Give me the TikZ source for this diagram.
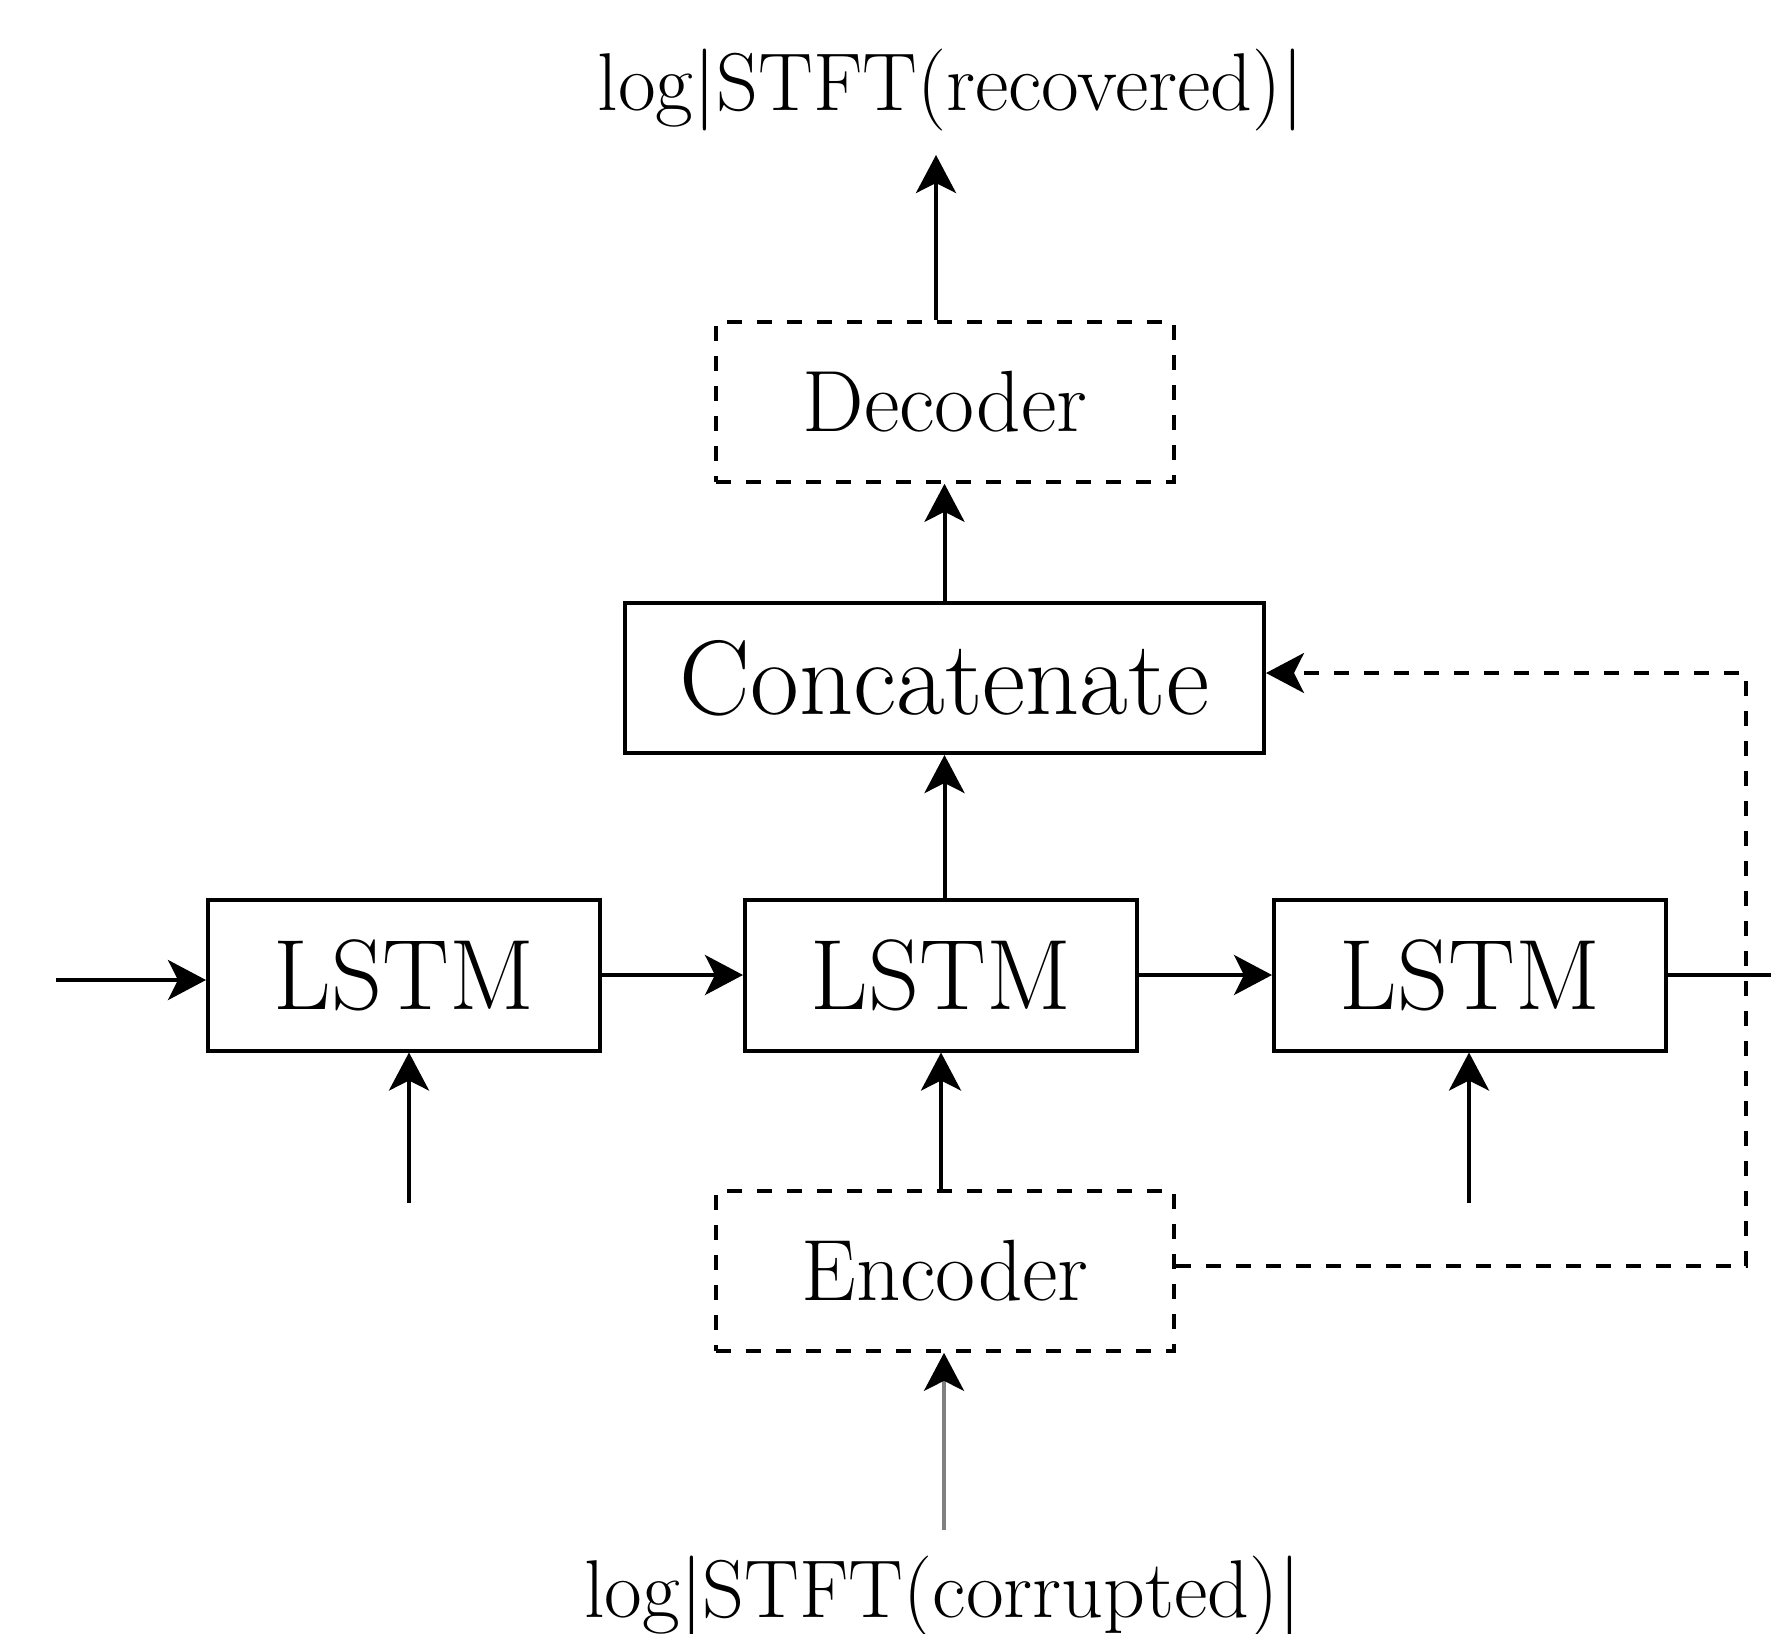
\documentclass[tikz,border=0pt]{standalone}
\usetikzlibrary{arrows.meta}

\definecolor{feedgray}{HTML}{808080}

\tikzset{
  box/.style={draw, line width=2pt, rectangle, inner sep=0pt},
  dashbox/.style={draw, line width=1.8pt, rectangle, inner sep=0pt, dash pattern=on 7.5pt off 7.5pt},
  lstmbox/.style={box, minimum width=196pt, minimum height=75.5pt, font=\fontsize{50}{60}\selectfont},
  codebox/.style={dashbox, minimum width=229pt, minimum height=80pt, font=\fontsize{43.5}{52}\selectfont},
  lbl/.style={inner sep=0pt, anchor=base, font=\fontsize{41}{49}\selectfont},
  arr/.style={line width=2pt, -{Stealth[length=19pt, width=20pt, inset=5pt, black]}},
  plain/.style={line width=2pt},
  dashline/.style={line width=1.8pt, dash pattern=on 7.5pt off 7.5pt}
}

\begin{document}
\begin{tikzpicture}[x=0.5pt, y=-0.5pt]
  \useasboundingbox (0,0) rectangle (1771,1633);

  % recurrent chain
  \node[lstmbox] (l1) at (404,975) {LSTM};
  \node[lstmbox] (l2) at (941,975) {LSTM};
  \node[lstmbox] (l3) at (1470,975) {LSTM};

  % encoder / concatenation / decoder stack
  \node[codebox] (enc) at (945,1271) {Encoder};
  \node[box, minimum width=319.5pt, minimum height=75pt, font=\fontsize{53}{63}\selectfont] (cat) at (944.5,678) {Concatenate};
  \node[codebox] (dec) at (945,402) {Decoder};

  % input and output labels
  \node[lbl] (outlbl) at (951,110) {log|STFT(recovered)|};
  \node[lbl] (inlbl) at (943,1617) {log|STFT(corrupted)|};

  % free ends of the connectors
  \coordinate (hin) at (56,980);
  \coordinate (hout) at (1771,975);
  \coordinate (x1) at (409,1203);
  \coordinate (x3) at (1469,1203);
  \coordinate (outtip) at (936,155);
  \coordinate (instart) at (944,1530);
  \coordinate (fb) at (1746,975);

  % horizontal state flow
  \draw[arr] (hin) -- (hin -| l1.west);
  \draw[arr] (l1.east) -- (l2.west);
  \draw[arr] (l2.east) -- (l3.west);
  \draw[plain] (l3.east) -- (hout);

  % inputs from below
  \draw[arr] (x1) -- (x1 |- l1.south);
  \draw[arr] (x3) -- (x3 |- l3.south);
  \draw[arr] (enc.north -| l2.south) -- (l2.south);
  \draw[line width=2pt, draw=feedgray, -{Stealth[length=19pt, width=20pt, inset=5pt, black]}] (instart) -- (instart |- enc.south);

  % upward path to the output
  \draw[arr] (l2.north -| cat.south) -- (cat.south);
  \draw[arr] (cat.north) -- (cat.north |- dec.south);
  \draw[arr] (dec.north -| outtip) -- (outtip);

  % skip connection from the encoder
  \draw[dashline, -{Stealth[length=19pt, width=20pt, inset=5pt, black]}] ([yshift=2.5pt]enc.east) -| (fb) |- ([yshift=2.5pt]cat.east);
\end{tikzpicture}
\end{document}
